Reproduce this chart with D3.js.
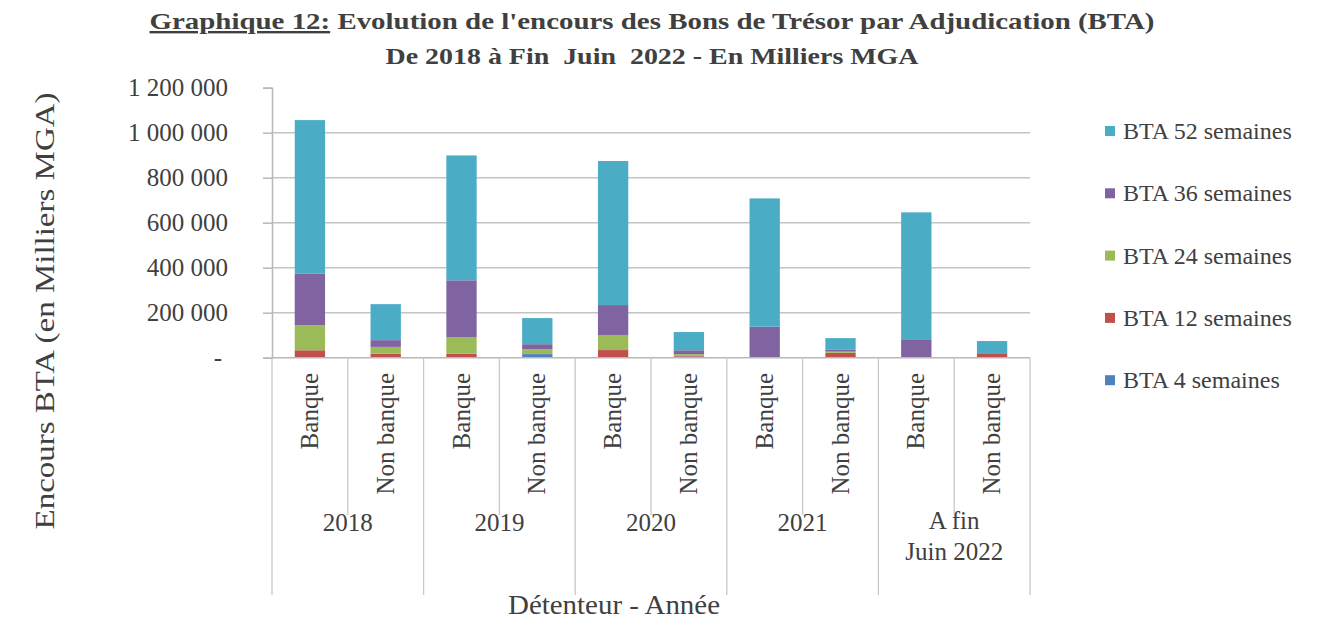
<!DOCTYPE html>
<html>
<head>
<meta charset="utf-8">
<script src="https://cdn.jsdelivr.net/npm/d3@7"></script>
<style>
  body { margin: 0; background: #fff; }
  text { font-family: "Liberation Serif", "DejaVu Serif", serif; fill: #404040; }
</style>
</head>
<body>
<script>
// categories
var years = ["2018", "2019", "2020", "2021", "A fin|Juin 2022"];
var holders = ["Banque", "Non banque"];
var seriesNames = ["BTA 4 semaines", "BTA 12 semaines", "BTA 24 semaines", "BTA 36 semaines", "BTA 52 semaines"];
// values in milliers MGA, order: 2018 B, 2018 NB, 2019 B, 2019 NB, ... 2022 B, 2022 NB
var bta4  = [2000, 2000, 0, 16000, 2000, 5000, 0, 2000, 0, 0];
var bta12 = [31000, 16000, 18000, 0, 32000, 3000, 0, 20000, 0, 18000];
var bta24 = [111000, 30000, 74000, 22000, 67000, 8000, 3000, 5000, 2000, 0];
var bta36 = [229000, 30000, 252000, 22000, 133000, 17000, 135000, 8000, 80000, 3000];
var bta52 = [683000, 160000, 555000, 116000, 640000, 81000, 570000, 52000, 564000, 53000];
var yTicks = [0, 200000, 400000, 600000, 800000, 1000000, 1200000];
var colors = ["#4F81BD", "#C0504D", "#9BBB59", "#8064A2", "#4BACC6"];

var w = 1329, h = 621;
var svg = d3.select("body").append("svg").attr("width", w).attr("height", h);

// build table
var keys = ["b4", "b12", "b24", "b36", "b52"];
var table = [];
years.forEach(function (y, yi) {
    holders.forEach(function (hd, hi) {
        var i = yi * 2 + hi;
        table.push({ id: y + "-" + hd, year: y, holder: hd,
            b4: bta4[i], b12: bta12[i], b24: bta24[i], b36: bta36[i], b52: bta52[i] });
    });
});
var stacked = d3.stack().keys(keys)(table);

var x = d3.scaleBand().domain(table.map(d => d.id)).range([272, 1030]).paddingInner(0.6).paddingOuter(0.3);
var y = d3.scaleLinear().domain([0, 1200000]).range([357.7, 87.7]);

// gridlines
svg.selectAll(".grid").data(yTicks.filter(t => t > 0 && t < 1200000)).enter().append("line")
    .attr("x1", 272).attr("x2", 1030)
    .attr("y1", d => y(d)).attr("y2", d => y(d))
    .attr("stroke", "#c4c4c4").attr("stroke-width", 1.6);

// y axis
var yAxis = d3.axisLeft(y).tickValues(yTicks).tickSize(9).tickPadding(34)
    .tickFormat(d => d === 0 ? "-" : d3.format(",")(d).replace(/,/g, " "));
var gy = svg.append("g").attr("transform", "translate(272,0)").call(yAxis);
gy.select(".domain").attr("stroke", "#b8b8b8").attr("stroke-width", 1.5);
gy.selectAll(".tick line").attr("stroke", "#b8b8b8").attr("stroke-width", 1.5);
gy.selectAll(".tick text").attr("font-size", 25).attr("fill", "#404040")
    .style("font-family", "'Liberation Serif', serif")
    .attr("x", d => d === 0 ? -50 : -44);

// bars
svg.selectAll(".serie").data(stacked).enter().append("g")
    .attr("fill", (d, i) => colors[i])
    .selectAll("rect").data(d => d).enter().append("rect")
    .attr("x", d => x(d.data.id))
    .attr("width", x.bandwidth())
    .attr("y", d => y(d[1]))
    .attr("height", d => y(d[0]) - y(d[1]));

// x axis baseline and category separators
svg.append("line").attr("x1", 272).attr("x2", 1030).attr("y1", y(0)).attr("y2", y(0))
    .attr("stroke", "#b8b8b8").attr("stroke-width", 1.5);
var step = x.step();
var bounds = d3.range(0, table.length + 1);
svg.selectAll(".sep").data(bounds).enter().append("line")
    .attr("x1", d => 272 + d * step).attr("x2", d => 272 + d * step)
    .attr("y1", y(0))
    .attr("y2", d => d % 2 === 0 ? 595 : 515)
    .attr("stroke", "#c8c8c8").attr("stroke-width", 1.3);

// holder labels (rotated)
svg.selectAll(".hl").data(table).enter().append("text")
    .attr("transform", d => "translate(" + (x(d.id) + x.bandwidth() / 2 + 8) + ",373) rotate(-90)")
    .attr("text-anchor", "end").attr("font-size", 25)
    .text(d => d.holder);

// year labels
years.forEach(function (yr, yi) {
    var cx = 272 + (yi * 2 + 1) * step;
    var lines = yr.split("|");
    var t = svg.append("text").attr("text-anchor", "middle").attr("font-size", 25);
    if (lines.length === 1) {
        t.attr("x", cx).attr("y", 531).text(yr);
    } else {
        t.append("tspan").attr("x", cx).attr("y", 529).text(lines[0]);
        t.append("tspan").attr("x", cx).attr("y", 560).text(lines[1]);
    }
});

// axis titles
svg.append("text").attr("x", 614).attr("y", 614).attr("text-anchor", "middle")
    .attr("font-size", 27).attr("textLength", 212).attr("lengthAdjust", "spacingAndGlyphs")
    .text("Détenteur - Année");
svg.append("text").attr("transform", "translate(54,311) rotate(-90)").attr("text-anchor", "middle")
    .attr("font-size", 27).attr("textLength", 437).attr("lengthAdjust", "spacingAndGlyphs")
    .text("Encours BTA (en Milliers MGA)");

// title
var t1 = svg.append("text").attr("x", 652).attr("y", 29).attr("text-anchor", "middle")
    .attr("font-size", 24).attr("font-weight", "bold").attr("fill", "#262626")
    .attr("textLength", 1005).attr("lengthAdjust", "spacingAndGlyphs");
t1.append("tspan").style("text-decoration", "underline").text("Graphique 12:");
t1.append("tspan").text(" Evolution de l'encours des Bons de Trésor par Adjudication (BTA)");
svg.append("text").attr("x", 652).attr("y", 64).attr("text-anchor", "middle")
    .attr("font-size", 24).attr("font-weight", "bold").attr("fill", "#262626")
    .attr("textLength", 533).attr("lengthAdjust", "spacingAndGlyphs")
    .style("white-space", "pre")
    .text("De 2018 à Fin  Juin  2022 - En Milliers MGA");

// legend (52 semaines on top)
var legendOrder = [4, 3, 2, 1, 0];
var legend = svg.selectAll(".legend").data(legendOrder).enter().append("g")
    .attr("transform", (d, i) => "translate(1105," + (131 + i * 62.3) + ")");
legend.append("rect").attr("x", 0).attr("y", -5).attr("width", 10).attr("height", 10)
    .attr("fill", d => colors[d]);
legend.append("text").attr("x", 18).attr("y", 8).attr("font-size", 24)
    .text(d => seriesNames[d]);
</script>
</body>
</html>
